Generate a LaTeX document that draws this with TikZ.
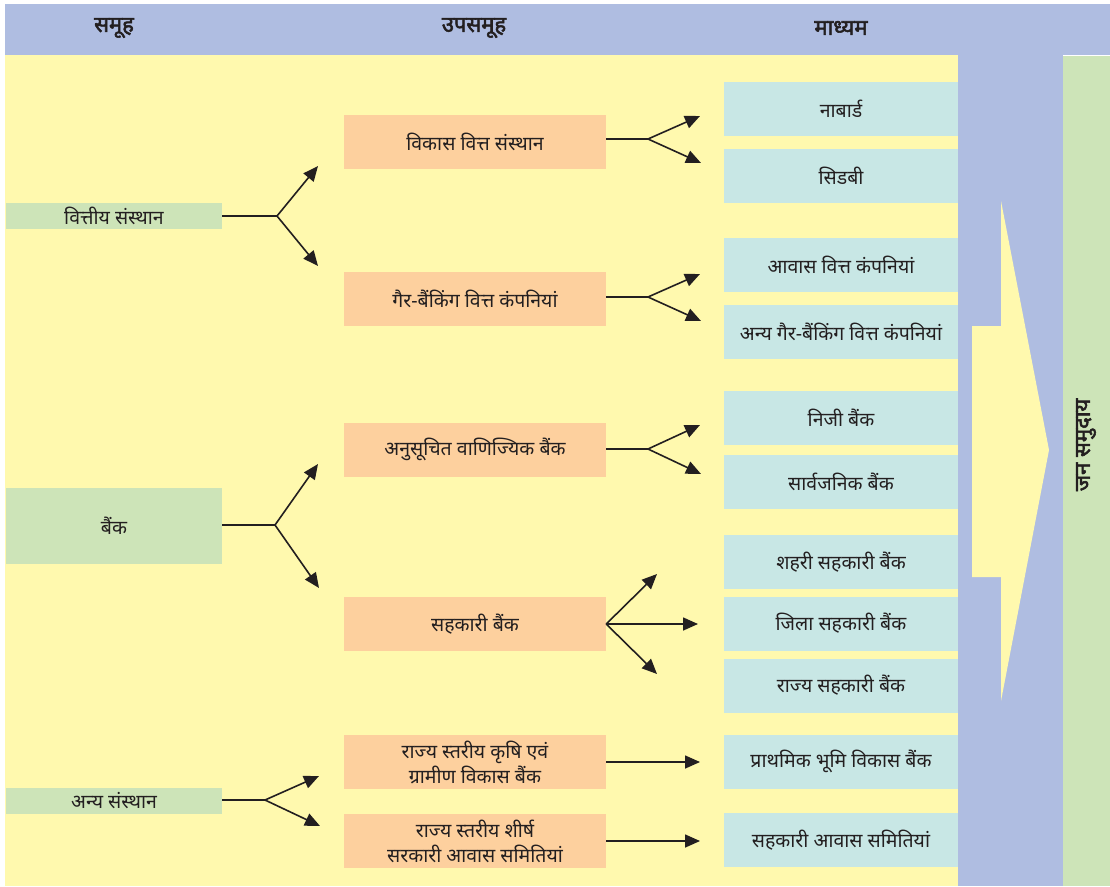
\documentclass[tikz,border=0pt]{standalone}
\usepackage{fontspec}
\setmainfont[Script=Devanagari]{Noto Sans}
\newfontfamily\devbold[Script=Devanagari, FakeBold=2.5]{Noto Sans}
\usetikzlibrary{arrows.meta}
\definecolor{hdrblue}{RGB}{175,189,225}
\definecolor{bgyellow}{RGB}{255,249,174}
\definecolor{grpgreen}{RGB}{205,228,184}
\definecolor{suborange}{RGB}{253,208,158}
\definecolor{medteal}{RGB}{200,231,229}
\definecolor{txtc}{RGB}{35,31,32}
\definecolor{linec}{RGB}{35,31,32}
\tikzset{
  every node/.style={text=txtc, font=\fontsize{19.5}{25}\selectfont, inner sep=0pt, align=center},
  grpbox/.style={fill=grpgreen, minimum width=216pt},
  subbox/.style={fill=suborange, minimum width=262pt, minimum height=54pt},
  medbox/.style={fill=medteal, minimum width=234pt, minimum height=54pt},
  hdrtxt/.style={font=\devbold\fontsize{22}{26}\selectfont},
  conn/.style={draw=linec, line width=1.6pt},
  arr/.style={conn, -{Triangle[length=15pt,width=13pt]}}
}
\begin{document}
\begin{tikzpicture}[x=1pt,y=-1pt]
\useasboundingbox (0,0) rectangle (1110,886);
% backgrounds
\fill[white] (0,0) rectangle (1110,886);
\fill[hdrblue] (5,4) rectangle (1110,55);
\fill[bgyellow] (5,55) rectangle (958,886);
\fill[hdrblue] (958,55) rectangle (1063,886);
\fill[grpgreen] (1063,56) rectangle (1110,886);
\fill[bgyellow] (972,326) -- (1001,326) -- (1001,201) -- (1049,450) -- (1001,701) -- (1001,577) -- (972,577) -- cycle;

% headers
\node[hdrtxt] (h1) at (114,28) {समूह};
\node[hdrtxt] (h2) at (474,28) {उपसमूह};
\node[hdrtxt] (h3) at (841,28) {माध्यम};
\node[hdrtxt, rotate=90] (jan) at (1086,445) {जन समुदाय};

% group nodes
\node[grpbox, minimum height=26pt] (g1) at (114,216) {वित्तीय संस्थान};
\node[grpbox, minimum height=76pt] (g2) at (114,526) {बैंक};
\node[grpbox, minimum height=26pt] (g3) at (114,801) {अन्य संस्थान};

% sub nodes
\node[subbox] (s1) at (475,142) {विकास वित्त संस्थान};
\node[subbox] (s2) at (475,299) {गैर-बैंकिंग वित्त कंपनियां};
\node[subbox] (s3) at (475,449.5) {अनुसूचित वाणिज्यिक बैंक};
\node[subbox] (s4) at (475,624) {सहकारी बैंक};
\node[subbox] (s5) at (475,762) {राज्य स्तरीय कृषि एवं\\ग्रामीण विकास बैंक};
\node[subbox] (s6) at (475,841) {राज्य स्तरीय शीर्ष\\सरकारी आवास समितियां};

% medium nodes
\node[medbox] (m1) at (841,108.5) {नाबार्ड};
\node[medbox] (m2) at (841,175.5) {सिडबी};
\node[medbox] (m3) at (841,265) {आवास वित्त कंपनियां};
\node[medbox] (m4) at (841,331.5) {अन्य गैर-बैंकिंग वित्त कंपनियां};
\node[medbox] (m5) at (841,417.5) {निजी बैंक};
\node[medbox] (m6) at (841,481.5) {सार्वजनिक बैंक};
\node[medbox] (m7) at (841,562) {शहरी सहकारी बैंक};
\node[medbox] (m8) at (841,623.5) {जिला सहकारी बैंक};
\node[medbox] (m9) at (841,685.5) {राज्य सहकारी बैंक};
\node[medbox] (m10) at (841,761.5) {प्राथमिक भूमि विकास बैंक};
\node[medbox] (m11) at (841,840) {सहकारी आवास समितियां};

% left connectors
\coordinate (bg1) at (277,216);
\coordinate (tg1a) at (318,166);
\coordinate (tg1b) at (318,266);
\draw[conn] (g1.east) -- (bg1);
\draw[arr] (bg1) -- (tg1a);
\draw[arr] (bg1) -- (tg1b);

\coordinate (bg2) at (275,525);
\coordinate (tg2a) at (318,464);
\coordinate (tg2b) at (319,588);
\draw[conn] (g2.east |- bg2) -- (bg2);
\draw[arr] (bg2) -- (tg2a);
\draw[arr] (bg2) -- (tg2b);

\coordinate (bg3) at (265,800);
\coordinate (tg3a) at (319,776);
\coordinate (tg3b) at (320,826);
\draw[conn] (g3.east |- bg3) -- (bg3);
\draw[arr] (bg3) -- (tg3a);
\draw[arr] (bg3) -- (tg3b);

% right connectors
\coordinate (bs1) at (648,139);
\coordinate (ts1a) at (700,116);
\coordinate (ts1b) at (701,163);
\draw[conn] (s1.east |- bs1) -- (bs1);
\draw[arr] (bs1) -- (ts1a);
\draw[arr] (bs1) -- (ts1b);

\coordinate (bs2) at (648,297);
\coordinate (ts2a) at (700,274);
\coordinate (ts2b) at (701,321);
\draw[conn] (s2.east |- bs2) -- (bs2);
\draw[arr] (bs2) -- (ts2a);
\draw[arr] (bs2) -- (ts2b);

\coordinate (bs3) at (648,449);
\coordinate (ts3a) at (700,425);
\coordinate (ts3b) at (701,474);
\draw[conn] (s3.east |- bs3) -- (bs3);
\draw[arr] (bs3) -- (ts3a);
\draw[arr] (bs3) -- (ts3b);

\coordinate (ts4a) at (657,574);
\coordinate (ts4b) at (698,624);
\coordinate (ts4c) at (657,674);
\draw[arr] (s4.east) -- (ts4a);
\draw[arr] (s4.east) -- (ts4b);
\draw[arr] (s4.east) -- (ts4c);

\coordinate (ts5) at (700,762);
\draw[arr] (s5.east) -- (ts5);
\coordinate (ts6) at (700,841);
\draw[arr] (s6.east) -- (ts6);
\end{tikzpicture}
\end{document}
